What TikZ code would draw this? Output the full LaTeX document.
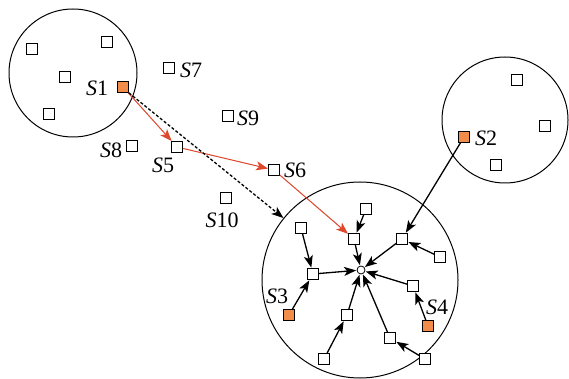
\documentclass[tikz,border=0pt]{standalone}
\usepackage{fontspec}
\setmainfont{Liberation Serif}
\usetikzlibrary{arrows.meta}
\definecolor{srcfill}{RGB}{242,140,74}
\definecolor{redline}{RGB}{222,72,45}
\begin{document}
\begin{tikzpicture}[x=1pt,y=-1pt,
  sq/.style={draw, minimum size=11pt, inner sep=0pt, line width=0.8pt, fill=white},
  src/.style={sq, fill=srcfill},
  lab/.style={font=\fontsize{22}{22}\selectfont, inner sep=0pt},
  region/.style={circle, draw, line width=1pt, inner sep=0pt},
  arr/.style={-{Stealth[length=12pt,width=9pt,inset=3pt]}, line width=1.3pt, shorten >=0.5pt},
  redarr/.style={-{Stealth[length=12pt,width=9pt,inset=3pt]}, line width=1pt, draw=redline, fill=redline},
  dasharr/.style={-{Stealth[length=12pt,width=9pt,inset=3pt]}, line width=1.3pt, dash pattern=on 3pt off 2pt}]
\useasboundingbox (0,0) rectangle (569,379);
% regions
\node[region, minimum size=128pt] (C1) at (73,73) {};
\node[region, minimum size=126pt] (C2) at (505,120) {};
\node[region, minimum size=196pt] (C3) at (360,280) {};
% circle 1
\node[sq] (q11) at (32,49) {};
\node[sq] (q12) at (107,42) {};
\node[sq] (q13) at (65,77) {};
\node[sq] (q14) at (49,114) {};
\node[src] (S1) at (123,87) {};
\node[lab] (lS1) at (97,88) {\textit{S}1};
% outside nodes
\node[sq] (S7) at (169,68) {};
\node[lab] (lS7) at (191,70) {\textit{S}7};
\node[sq] (S9) at (228,116) {};
\node[lab] (lS9) at (248,118) {\textit{S}9};
\node[sq] (S8) at (132,146) {};
\node[lab] (lS8) at (111,150) {\textit{S}8};
\node[sq] (S5) at (177,147) {};
\node[lab] (lS5) at (163,165) {\textit{S}5};
\node[sq] (S6) at (274,170) {};
\node[lab] (lS6) at (295,170) {\textit{S}6};
\node[sq] (S10) at (226,198) {};
\node[lab] (lS10) at (222,220) {\textit{S}10};
% circle 2
\node[sq] (q21) at (517,80) {};
\node[sq] (q22) at (545,126) {};
\node[sq] (q23) at (496,165) {};
\node[src] (S2) at (464,137) {};
\node[lab] (lS2) at (486,138) {\textit{S}2};
% circle 3
\node[circle, draw, line width=0.8pt, minimum size=8pt, inner sep=0pt] (sink) at (361,270) {};
\node[sq] (a) at (366,209) {};
\node[sq] (b) at (354,239) {};
\node[sq] (c) at (301,228) {};
\node[sq] (d) at (313,274) {};
\node[src] (S3) at (289,315) {};
\node[lab] (lS3) at (277,296) {\textit{S}3};
\node[sq] (e) at (347,315) {};
\node[sq] (f) at (324,359) {};
\node[sq] (g) at (390,338) {};
\node[sq] (h) at (425,359) {};
\node[src] (S4) at (428,326) {};
\node[lab] (lS4) at (437,307) {\textit{S}4};
\node[sq] (i) at (413,286) {};
\node[sq] (j) at (402,239) {};
\node[sq] (k) at (440,257) {};
% arrows
\draw[arr] (a) -- (b);
\draw[arr] (b) -- (sink);
\draw[arr] (c) -- (d);
\draw[arr] (d) -- (sink);
\draw[arr] (S3) -- (d);
\draw[arr] (f) -- (e);
\draw[arr] (e) -- (sink);
\draw[arr] (g) -- (sink);
\draw[arr] (h) -- (g);
\draw[arr] (S4) -- (i);
\draw[arr] (i) -- (sink);
\draw[arr] (j) -- (sink);
\draw[arr] (k) -- (j);
\draw[arr] (S2) -- (j);
\draw[redarr] (S1) -- (S5);
\draw[redarr] (S5) -- (S6);
\draw[redarr] (S6) -- (b);
\draw[dasharr] (S1.south east) -- (C3);
\end{tikzpicture}
\end{document}
